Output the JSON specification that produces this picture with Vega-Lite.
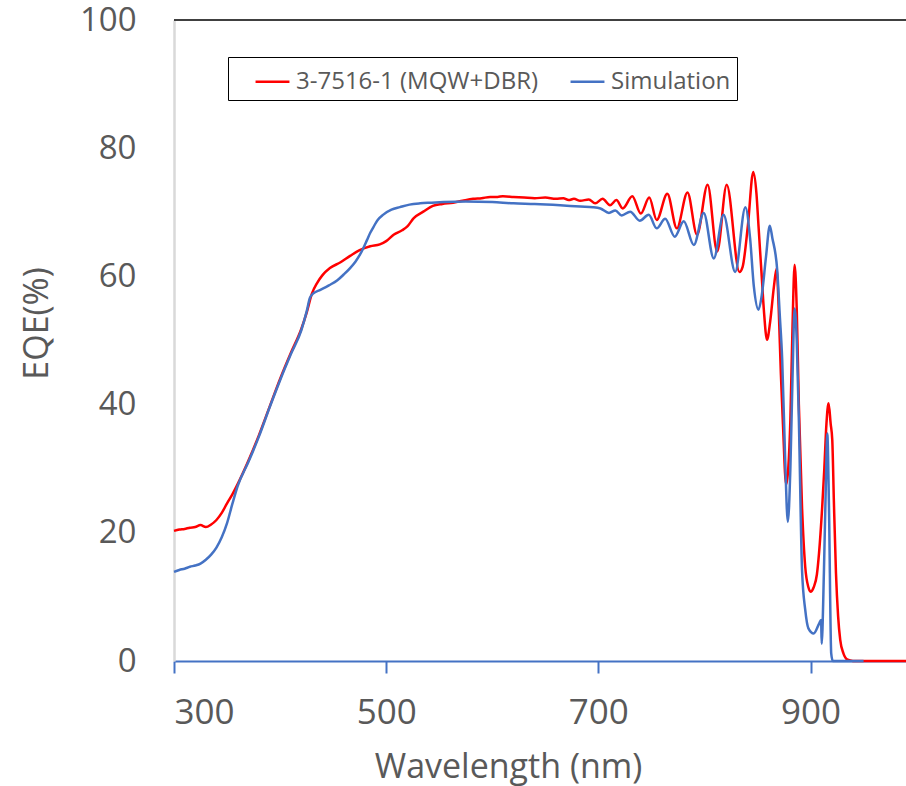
{
  "$schema": "https://vega.github.io/schema/vega-lite/v6.json",
  "autosize": {"type": "none"},
  "padding": {"left": 174, "top": 20, "right": 0, "bottom": 125},
  "width": 732,
  "height": 641,
  "background": "white",
  "config": {
    "view": {"stroke": null},
    "font": "Open Sans"
  },
  "datasets": {
    "red": [
      [300,20.3],[305,20.5],[310,20.6],[315,20.8],[320,20.9],[325,21.2],[330,20.9],[335,21.3],[340,22.0],[345,23.1],[350,24.6],[355,26.0],[360,27.6],[370,31.2],[380,35.2],[390,39.6],[400,44.0],[410,48.0],[420,51.8],[425,54.3],[430,57.3],[435,59.0],[440,60.2],[447,61.3],[457,62.2],[466,63.2],[475,64.1],[485,64.7],[494,65.0],[500,65.5],[507,66.5],[515,67.2],[520,67.8],[526,69.1],[535,70.1],[544,71.0],[553,71.3],[563,71.5],[572,71.8],[582,72.1],[590,72.2],[598,72.4],[605,72.4],[610,72.5],[620,72.4],[630,72.3],[640,72.2],[650,72.3],[660,72.1],[667,72.2],[672,71.9],[677,72.1],[683,71.8],[691,72.0],[697,71.4],[704,72.1],[711,71.1],[717,71.9],[723,70.6],[732,72.5],[740,69.8],[748,72.3],[755,68.8],[765,72.9],[774,67.5],[784,73.1],[793,66.5],[803,74.3],[812,63.9],[821,74.3],[833,60.7],[836,61.5],[841,68],[846,76.3],[849,73],[851,67.8],[854,60],[856,54.8],[859,50.1],[862,53],[865.5,58.4],[868,61.2],[870,55],[872,45],[874,37],[877,27.5],[879,30],[881,37.6],[883,52],[885,61.8],[887,55],[889,40],[892,24],[895,14.7],[898,11.5],[900,10.8],[903,11.5],[906,13.5],[908,16.8],[911,24],[913,30],[915,37],[917,40.2],[919,37],[920.5,34.5],[922,25],[924,13.7],[926,7],[928,3.3],[931,1.2],[935,0.2],[940,0],[990,0]
    ],
    "blue": [
      [300,13.9],[305,14.2],[310,14.4],[315,14.7],[320,14.9],[325,15.2],[330,15.8],[335,16.6],[340,17.7],[345,19.3],[350,21.5],[355,24.5],[360,27.3],[370,31.0],[380,35.0],[390,39.5],[400,43.8],[410,47.8],[420,51.6],[425,54.5],[428,56.6],[431,57.3],[438,57.9],[446,58.6],[454,59.4],[460,60.3],[466,61.3],[471,62.3],[475,63.3],[479,64.6],[482,65.7],[485,66.8],[488,67.7],[492,68.8],[497,69.6],[505,70.4],[513,70.8],[522,71.2],[532,71.4],[543,71.5],[554,71.6],[575,71.7],[600,71.6],[620,71.4],[640,71.3],[664,71.1],[683,70.9],[695,70.8],[702,70.6],[710,69.9],[716,70.3],[722,69.5],[730,70.1],[739,68.7],[747.5,69.6],[755,67.5],[763,69.0],[772,66.2],[780.5,68.6],[790,64.9],[799.3,69.9],[808.8,62.8],[818,69.6],[829,60.7],[838.6,70.8],[843,66],[846.6,58.4],[851,54.8],[854,57],[858,63],[861.6,67.9],[864,66],[868.6,61],[871,54],[873.3,47],[876,32],[878.6,21.7],[881,30],[883,44],[885,55],[887,50],[889,37.6],[892,14.2],[895,8],[898,5.1],[903,4.3],[908,5.8],[910,6.4],[910.5,2.7],[912.6,13.7],[914.5,28],[915.8,35.5],[917.4,24],[919.5,1.2],[921,0],[950,0]
    ]
  },
  "layer": [
    {
      "data": {"name": "red"},
      "transform": [
        {"calculate": "datum[0]", "as": "wl"},
        {"calculate": "datum[1]", "as": "eqe"},
        {"calculate": "'3-7516-1 (MQW+DBR)'", "as": "series"}
      ],
      "mark": {"type": "line", "strokeWidth": 2.5, "interpolate": "monotone"},
      "encoding": {
        "x": {
          "field": "wl", "type": "quantitative",
          "scale": {"domain": [300, 990], "nice": false, "zero": false},
          "axis": {
            "values": [300, 500, 700, 900],
            "grid": false,
            "domainColor": "#4472C4", "domainWidth": 2,
            "tickColor": "#4472C4", "tickWidth": 2, "tickSize": 12,
            "labelFont": "Open Sans", "labelFontSize": 35, "labelColor": "#595959",
            "labelPadding": 22,
            "title": "Wavelength (nm)",
            "titleFont": "Open Sans", "titleFontSize": 34, "titleFontWeight": "normal", "titleColor": "#595959",
            "titleX": 334, "titleY": 116, "titleAlign": "center", "titleBaseline": "alphabetic", "titleAnchor": null
          }
        },
        "y": {
          "field": "eqe", "type": "quantitative",
          "scale": {"domain": [0, 100], "nice": false},
          "axis": {
            "values": [0, 20, 40, 60, 80, 100],
            "grid": false,
            "domainColor": "#d9d9d9", "domainWidth": 2.5,
            "ticks": false,
            "labelFont": "Open Sans", "labelFontSize": 33, "labelColor": "#595959",
            "labelPadding": 38,
            "title": "EQE(%)",
            "titleFont": "Open Sans", "titleFontSize": 34, "titleFontWeight": "normal", "titleColor": "#595959",
            "titleX": -137, "titleY": 303, "titleAngle": -90, "titleAlign": "center", "titleBaseline": "middle", "titleAnchor": null
          }
        },
        "color": {
          "field": "series", "type": "nominal",
          "scale": {"domain": ["3-7516-1 (MQW+DBR)", "Simulation"], "range": ["#FF0000", "#4472C4"]},
          "legend": {
            "orient": "none", "legendX": 54, "legendY": 37, "direction": "horizontal",
            "title": null, "strokeColor": "#000000", "padding": 6,
            "labelFont": "Open Sans", "labelFontSize": 24, "labelColor": "#595959", "labelLimit": 400,
            "symbolType": "stroke", "symbolSize": 1150, "symbolStrokeWidth": 2.5,
            "columnPadding": 10, "symbolOffset": 20, "labelOffset": 5
          }
        }
      }
    },
    {
      "data": {"name": "blue"},
      "transform": [
        {"calculate": "datum[0]", "as": "wl"},
        {"calculate": "datum[1]", "as": "eqe"},
        {"calculate": "'Simulation'", "as": "series"}
      ],
      "mark": {"type": "line", "strokeWidth": 2.5, "interpolate": "monotone"},
      "encoding": {
        "x": {"field": "wl", "type": "quantitative"},
        "y": {"field": "eqe", "type": "quantitative"},
        "color": {"field": "series", "type": "nominal"}
      }
    },
    {
      "data": {"values": [{}]},
      "mark": {"type": "rule", "color": "#404040", "strokeWidth": 2},
      "encoding": {"y": {"datum": 100, "type": "quantitative"}}
    }
  ],
  "resolve": {"scale": {"color": "shared"}}
}
